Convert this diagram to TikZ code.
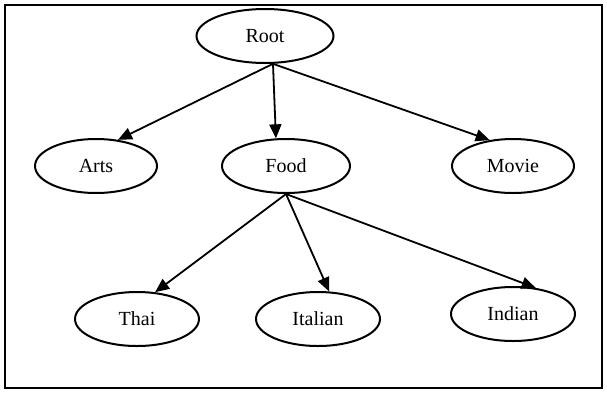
\documentclass[tikz,border=0pt]{standalone}
\usepackage{fontspec}
\setmainfont{Liberation Serif}
\usetikzlibrary{shapes.geometric, arrows.meta}

\begin{document}
\begin{tikzpicture}[x=1pt, y=-1pt,
    topic/.style={draw, ellipse, line width=2pt, inner sep=0pt, minimum width=124pt, minimum height=54pt, font=\fontsize{20}{20}\selectfont},
    link/.style={-{Triangle[length=14pt, width=12pt]}, line width=1.8pt}]
    \useasboundingbox (0,0) rectangle (607,394);

    % Draw the frame
    \draw[line width=1.8pt] (5,5) rectangle (602,388);

    % Draw the root and the first level
    \node[topic, minimum width=137pt] (root) at (265,36) {Root};
    \node[topic, minimum width=122pt] (arts) at (96,166) {Arts};
    \node[topic, minimum width=128pt] (food) at (286,166) {Food};
    \node[topic, minimum width=122pt] (movie) at (513,166) {Movie};

    % Draw the second level
    \node[topic] (thai) at (137,319) {Thai};
    \node[topic] (italian) at (318,319) {Italian};
    \node[topic] (indian) at (513,314) {Indian};

    % Draw the arrows from the root
    \draw[link] (root.-74) -- (arts.50);
    \draw[link] (root.-74) -- (food.110);
    \draw[link] (root.-74) -- (movie.132);

    % Draw the arrows from food
    \draw[link] (food.south) -- (thai.56);
    \draw[link] (food.south) -- (italian.68);
    \draw[link] (food.south) -- (indian.49);
\end{tikzpicture}
\end{document}
